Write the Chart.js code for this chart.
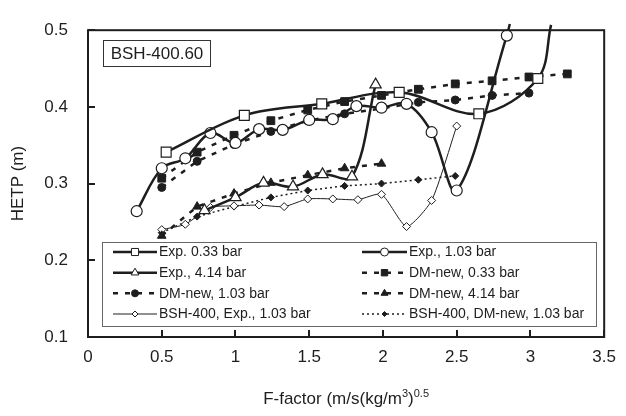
<!DOCTYPE html>
<html>
<head>
<meta charset="utf-8">
<script src="https://cdn.jsdelivr.net/npm/chart.js"></script>
<style>
  html, body { margin: 0; padding: 0; background: #fff; }
  #wrap { width: 626px; height: 416px; }
</style>
</head>
<body>
<div id="wrap"><canvas id="hetpChart" width="626" height="416"></canvas></div>
<script>
// F-factor / HETP values
const exp033F = [0.53, 1.06, 1.585, 2.11, 2.65, 3.05, 3.14];
const exp033H = [0.341, 0.389, 0.404, 0.419, 0.391, 0.437, 0.507];

const exp103F = [0.33, 0.5, 0.66, 0.83, 1.0, 1.16, 1.32, 1.5, 1.66, 1.82, 1.99, 2.16, 2.33, 2.5, 2.84, 2.86];
const exp103H = [0.264, 0.32, 0.333, 0.366, 0.353, 0.371, 0.37, 0.383, 0.384, 0.401, 0.399, 0.404, 0.367, 0.291, 0.493, 0.508];

const exp414F = [0.79, 1.0, 1.19, 1.39, 1.59, 1.79, 1.95];
const exp414H = [0.265, 0.282, 0.301, 0.296, 0.312, 0.309, 0.429];

const dmF = [0.5, 0.74, 0.99, 1.24, 1.49, 1.74, 1.99, 2.24, 2.49, 2.74, 2.99, 3.25];
const dm033H = [0.307, 0.341, 0.363, 0.382, 0.396, 0.407, 0.415, 0.423, 0.43, 0.434, 0.439, 0.443];
const dm103H = [0.295, 0.329, 0.351, 0.368, 0.382, 0.391, 0.398, 0.406, 0.409, 0.415, 0.418];
const dm414H = [0.232, 0.27, 0.287, 0.301, 0.311, 0.32, 0.326];

const bshExpF = [0.5, 0.66, 0.83, 0.99, 1.16, 1.33, 1.49, 1.66, 1.83, 1.99, 2.16, 2.33, 2.5];
const bshExpH = [0.24, 0.247, 0.269, 0.271, 0.272, 0.27, 0.28, 0.28, 0.279, 0.286, 0.244, 0.278, 0.375];
const bshDmH = [0.236, 0.257, 0.27, 0.282, 0.291, 0.297, 0.3, 0.305, 0.31];

const xTicks = [0, 0.5, 1, 1.5, 2, 2.5, 3, 3.5];
const yTicks = [0.1, 0.2, 0.3, 0.4, 0.5];

const INK = '#1e1e1e';
const FONT = '"Liberation Sans", Arial, sans-serif';

function pts(xs, ys) {
    return ys.map((y, i) => ({ x: xs[i], y: y }));
}
// last point of a curve is only where the line leaves the frame
function radii(n, r, lastHidden) {
    return Array.from({ length: n }, (_, i) => (lastHidden && i === n - 1) ? 0 : r);
}

const datasets = [
    {
        label: 'Exp. 0.33 bar',
        data: pts(exp033F, exp033H),
        borderColor: INK, borderWidth: 2.5, tension: 0.35,
        pointStyle: 'rect', pointRadius: radii(exp033H.length, 7, true),
        pointBackgroundColor: '#fff', pointBorderColor: INK, pointBorderWidth: 1.2,
        legendR: 5
    },
    {
        label: 'Exp., 1.03 bar',
        data: pts(exp103F, exp103H),
        borderColor: INK, borderWidth: 2.5, tension: 0.35,
        pointStyle: 'circle', pointRadius: radii(exp103H.length, 5.5, true),
        pointBackgroundColor: '#fff', pointBorderColor: INK, pointBorderWidth: 1.2,
        legendR: 4
    },
    {
        label: 'Exp., 4.14 bar',
        data: pts(exp414F, exp414H),
        borderColor: INK, borderWidth: 2.5, tension: 0.35,
        pointStyle: 'triangle', pointRadius: 6.5,
        pointBackgroundColor: '#fff', pointBorderColor: INK, pointBorderWidth: 1.2,
        legendR: 4.5
    },
    {
        label: 'DM-new, 0.33 bar',
        data: pts(dmF, dm033H),
        borderColor: INK, borderWidth: 2.5, borderDash: [5, 7], tension: 0,
        pointStyle: 'rect', pointRadius: 5.5,
        pointBackgroundColor: INK, pointBorderColor: INK, pointBorderWidth: 1,
        legendR: 4.5
    },
    {
        label: 'DM-new, 1.03 bar',
        data: pts(dmF, dm103H),
        borderColor: INK, borderWidth: 2.5, borderDash: [5, 7], tension: 0,
        pointStyle: 'circle', pointRadius: 4,
        pointBackgroundColor: INK, pointBorderColor: INK, pointBorderWidth: 1,
        legendR: 3.5
    },
    {
        label: 'DM-new, 4.14 bar',
        data: pts(dmF, dm414H),
        borderColor: INK, borderWidth: 2.5, borderDash: [5, 7], tension: 0,
        pointStyle: 'triangle', pointRadius: 5,
        pointBackgroundColor: INK, pointBorderColor: INK, pointBorderWidth: 1,
        legendR: 4
    },
    {
        label: 'BSH-400, Exp., 1.03 bar',
        data: pts(bshExpF, bshExpH),
        borderColor: INK, borderWidth: 1, tension: 0.2,
        pointStyle: 'rectRot', pointRadius: 4,
        pointBackgroundColor: '#fff', pointBorderColor: INK, pointBorderWidth: 1,
        legendR: 3
    },
    {
        label: 'BSH-400, DM-new, 1.03 bar',
        data: pts(dmF, bshDmH),
        borderColor: INK, borderWidth: 1.5, borderDash: [2, 3], tension: 0,
        pointStyle: 'rectRot', pointRadius: 3.5,
        pointBackgroundColor: INK, pointBorderColor: INK, pointBorderWidth: 1,
        legendR: 2.5
    }
];
datasets.forEach(d => {
    d.fill = false;
    d.clip = { left: 0, top: 8, right: 0, bottom: 0 };
});

function drawMarker(ctx, style, x, y, r, fill, stroke, lw) {
    ctx.save();
    ctx.beginPath();
    if (style === 'circle') {
        ctx.arc(x, y, r, 0, Math.PI * 2);
    } else if (style === 'rect') {
        const h = r * Math.SQRT1_2;
        ctx.rect(x - h, y - h, 2 * h, 2 * h);
    } else if (style === 'triangle') {
        const s = r * Math.sin(Math.PI / 3);
        ctx.moveTo(x, y - r);
        ctx.lineTo(x - s, y + r / 2);
        ctx.lineTo(x + s, y + r / 2);
        ctx.closePath();
    } else if (style === 'rectRot') {
        ctx.moveTo(x, y - r);
        ctx.lineTo(x + r, y);
        ctx.lineTo(x, y + r);
        ctx.lineTo(x - r, y);
        ctx.closePath();
    }
    ctx.fillStyle = fill;
    ctx.fill();
    ctx.lineWidth = lw;
    ctx.strokeStyle = stroke;
    ctx.setLineDash([]);
    ctx.stroke();
    ctx.restore();
}

// frame, inward ticks, label box, legend and x title
const decorPlugin = {
    id: 'decor',
    afterDraw(chart) {
        const ctx = chart.ctx;
        const a = chart.chartArea;
        const xs = chart.scales.x, ys = chart.scales.y;
        ctx.save();

        // frame
        ctx.strokeStyle = INK;
        ctx.lineWidth = 2;
        ctx.strokeRect(a.left, a.top, a.right - a.left, a.bottom - a.top);

        // inward tick marks
        ctx.beginPath();
        xTicks.forEach(v => {
            const px = Math.round(xs.getPixelForValue(v));
            ctx.moveTo(px, a.bottom);
            ctx.lineTo(px, a.bottom - 7);
        });
        yTicks.forEach(v => {
            const py = Math.round(ys.getPixelForValue(v));
            ctx.moveTo(a.left, py);
            ctx.lineTo(a.left + 7, py);
        });
        ctx.stroke();

        // packing label
        ctx.lineWidth = 1;
        ctx.strokeStyle = '#333';
        ctx.strokeRect(103.5, 40.5, 107, 26);
        ctx.fillStyle = INK;
        ctx.font = '17px ' + FONT;
        ctx.textAlign = 'center';
        ctx.textBaseline = 'middle';
        ctx.fillText('BSH-400.60', 157, 54.5);

        // legend
        ctx.fillStyle = '#fff';
        ctx.fillRect(103, 243, 493, 84);
        ctx.strokeStyle = '#666';
        ctx.strokeRect(102.5, 242.5, 494, 84);
        const rowsY = [252, 272.7, 293.3, 314];
        const lineX0 = [113, 362], lineX1 = [157, 407], textX = [159, 409];
        ctx.font = '14px ' + FONT;
        ctx.textAlign = 'left';
        chart.data.datasets.forEach((d, i) => {
            const col = i % 2, row = Math.floor(i / 2);
            const y = rowsY[row];
            ctx.save();
            ctx.beginPath();
            ctx.strokeStyle = d.borderColor;
            ctx.lineWidth = d.borderWidth;
            ctx.setLineDash(d.borderDash || []);
            ctx.moveTo(lineX0[col], y);
            ctx.lineTo(lineX1[col], y);
            ctx.stroke();
            ctx.restore();
            drawMarker(ctx, d.pointStyle, (lineX0[col] + lineX1[col]) / 2, y, d.legendR,
                d.pointBackgroundColor, d.pointBorderColor, 1);
            ctx.fillStyle = INK;
            ctx.fillText(d.label, textX[col], y + 0.5);
        });

        // x axis title with superscripts
        const main1 = 'F-factor (m/s(kg/m', sup1 = '3', main2 = ')', sup2 = '0.5';
        const big = '17px ' + FONT;
        const small = '11px ' + FONT;
        ctx.font = big;
        const w1 = ctx.measureText(main1).width, w3 = ctx.measureText(main2).width;
        ctx.font = small;
        const w2 = ctx.measureText(sup1).width, w4 = ctx.measureText(sup2).width;
        let x = (a.left + a.right) / 2 - (w1 + w2 + w3 + w4) / 2;
        const base = 404;
        ctx.textAlign = 'left';
        ctx.textBaseline = 'alphabetic';
        ctx.fillStyle = INK;
        ctx.font = big; ctx.fillText(main1, x, base); x += w1;
        ctx.font = small; ctx.fillText(sup1, x, base - 7); x += w2;
        ctx.font = big; ctx.fillText(main2, x, base); x += w3;
        ctx.font = small; ctx.fillText(sup2, x, base - 7);

        ctx.restore();
    }
};

const ctx = document.getElementById('hetpChart').getContext('2d');
const hetpChart = new Chart(ctx, {
    type: 'line',
    data: { datasets: datasets },
    options: {
        responsive: false,
        animation: false,
        devicePixelRatio: 1,
        layout: { padding: { top: 21, right: 17, left: 0, bottom: 0 } },
        plugins: {
            legend: { display: false },
            tooltip: { enabled: false }
        },
        scales: {
            x: {
                type: 'linear',
                min: 0, max: 3.5,
                afterBuildTicks: s => { s.ticks = xTicks.map(v => ({ value: v })); },
                ticks: {
                    color: INK, padding: 10,
                    font: { size: 17, family: FONT },
                    callback: v => String(v)
                },
                grid: { display: false, drawTicks: false },
                border: { display: false },
                afterFit: s => { s.height = 79; }
            },
            y: {
                type: 'linear',
                min: 0.1, max: 0.5,
                afterBuildTicks: s => { s.ticks = yTicks.map(v => ({ value: v })); },
                ticks: {
                    color: INK, padding: 20,
                    font: { size: 17, family: FONT },
                    callback: v => v.toFixed(1)
                },
                grid: { display: false, drawTicks: false },
                border: { display: false },
                title: {
                    display: true, text: 'HETP (m)', color: INK,
                    font: { size: 17, family: FONT },
                    padding: { top: 8, bottom: 0 }
                },
                afterFit: s => { s.width = 88; }
            }
        }
    },
    plugins: [decorPlugin]
});
</script>
</body>
</html>
